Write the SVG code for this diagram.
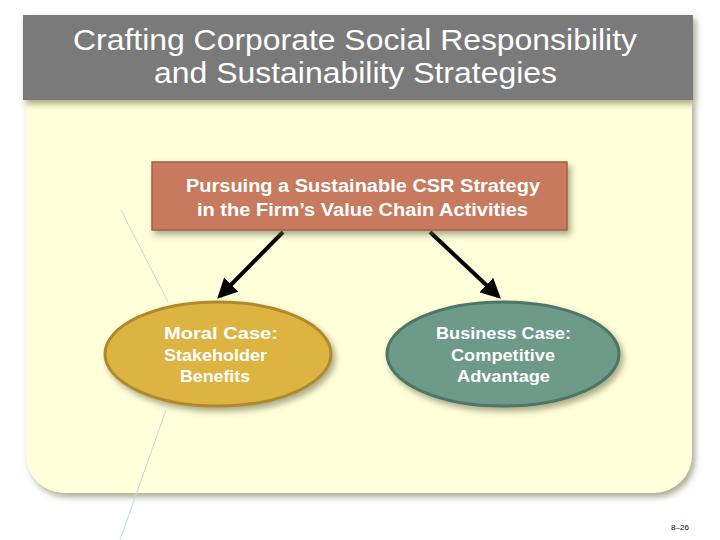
<svg xmlns="http://www.w3.org/2000/svg" width="720" height="540" viewBox="0 0 720 540">
<defs>
<style>
.t{font-family:"Liberation Sans",Arial,sans-serif;fill:#fff}
.b{font-weight:bold;font-size:18px}
.e{font-weight:bold;font-size:17px}
</style>
<marker id="ah" viewBox="0 0 10 10" refX="8" refY="5" markerWidth="5" markerHeight="5" orient="auto"><path d="M0,0L10,5L0,10z" fill="#000"/></marker>
<filter id="sh" x="-10%" y="-10%" width="130%" height="130%"><feDropShadow dx="3" dy="4" stdDeviation="3" flood-color="#707050" flood-opacity="0.6"/></filter>
</defs>
<rect width="720" height="540" fill="#fff"/>
<g id="panel">
<path d="M26,100H692V455a38,38 0 0 1 -38,38H64a38,38 0 0 1 -38,-38Z" fill="#FFFFD9" filter="url(#sh)"/>
</g>
<g id="title">
<rect x="23" y="15" width="670" height="85" fill="#7A7A7A" filter="url(#sh)"/>
<text class="t" x="73" y="50" font-size="29" textLength="564" lengthAdjust="spacingAndGlyphs">Crafting Corporate Social Responsibility</text>
<text class="t" x="154" y="83" font-size="29" textLength="403" lengthAdjust="spacingAndGlyphs">and Sustainability Strategies</text>
</g>
<g id="deco" stroke="#BFDCE0" stroke-width="1" fill="none">
<line x1="121" y1="210" x2="168" y2="302"/>
<line x1="166" y1="410" x2="120" y2="540"/>
</g>
<g id="connectors" stroke="#000" stroke-width="4" fill="none">
<line x1="283" y1="232" x2="220" y2="296" marker-end="url(#ah)"/>
<line x1="430" y1="232" x2="498" y2="296" marker-end="url(#ah)"/>
</g>
<g id="strategy">
<rect x="152" y="162" width="415" height="68" fill="#C87A5E" stroke="#A85E45" stroke-width="1.5" filter="url(#sh)"/>
<text class="t b" x="186" y="192" textLength="354" lengthAdjust="spacingAndGlyphs">Pursuing a Sustainable CSR Strategy</text>
<text class="t b" x="197" y="216" textLength="331" lengthAdjust="spacingAndGlyphs">in the Firm’s Value Chain Activities</text>
</g>
<g id="moral">
<ellipse cx="218" cy="354" rx="113" ry="52" fill="#DDB443" stroke="#B08A2A" stroke-width="3" filter="url(#sh)"/>
<text class="t e" x="164" y="339" textLength="114" lengthAdjust="spacingAndGlyphs">Moral Case:</text>
<text class="t e" x="164" y="361" textLength="103" lengthAdjust="spacingAndGlyphs">Stakeholder</text>
<text class="t e" x="180" y="382" textLength="70" lengthAdjust="spacingAndGlyphs">Benefits</text>
</g>
<g id="business">
<ellipse cx="503" cy="354" rx="116" ry="52" fill="#6E9A8A" stroke="#4E7568" stroke-width="3" filter="url(#sh)"/>
<text class="t e" x="436" y="339" textLength="135" lengthAdjust="spacingAndGlyphs">Business Case:</text>
<text class="t e" x="451" y="361" textLength="104" lengthAdjust="spacingAndGlyphs">Competitive</text>
<text class="t e" x="457" y="382" textLength="93" lengthAdjust="spacingAndGlyphs">Advantage</text>
</g>
<text x="680" y="530" font-family="Liberation Sans,Arial,sans-serif" font-size="8" fill="#000" text-anchor="middle">8–26</text>
</svg>
